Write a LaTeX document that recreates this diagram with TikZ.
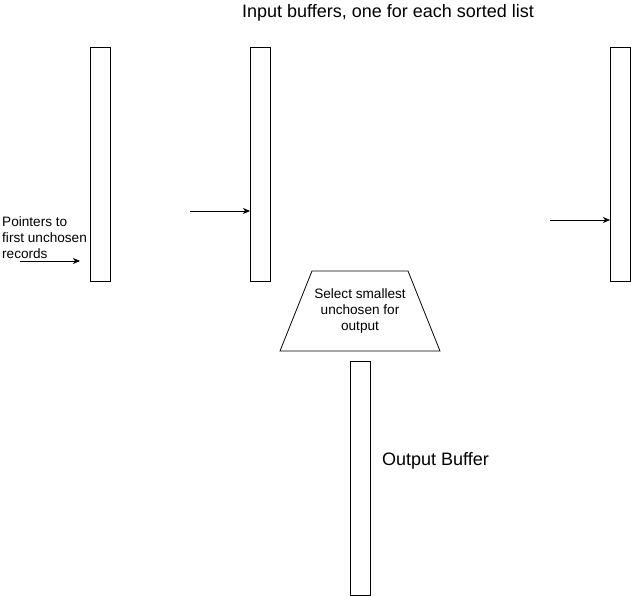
\documentclass[tikz,border=0pt]{standalone}
\usepackage{fontspec}
\setmainfont{Liberation Sans}
\usetikzlibrary{arrows.meta}
\begin{document}
\begin{tikzpicture}[x=1pt,y=-1pt,
  buf/.style={draw,line width=0.8pt,minimum width=20pt,minimum height=234pt,inner sep=0pt,anchor=north west},
  arr/.style={line width=0.8pt,-{Stealth[length=7pt,width=6pt,inset=2pt]}},
  small/.style={font=\fontsize{13.6}{16}\selectfont,align=center},
  big/.style={font=\fontsize{18}{21}\selectfont}]
\useasboundingbox (0,0) rectangle (631,596);
\node[buf] (r1) at (90,47) {};
\node[buf] (r2) at (250,47) {};
\node[buf] (r3) at (610,47) {};
\node[buf] (out) at (350,361) {};
\coordinate (t1) at (312,271);
\coordinate (t2) at (408,271);
\coordinate (t3) at (440,351);
\coordinate (t4) at (280,351);
\draw[line width=0.8pt] (t1) -- (t2) -- (t3) -- (t4) -- cycle;
\node[small,inner sep=0pt] (sel) at (360,311) {Select smallest\\unchosen for\\output};
\node[big,anchor=center] (title) at (388,13) {Input buffers, one for each sorted list};
\node[big,anchor=west,inner sep=0pt] (outl) at (382,461) {Output Buffer};
\node[small,align=left,anchor=west,inner sep=0pt] (ptr) at (2,238) {Pointers to\\first unchosen\\records};
\coordinate (s1) at (20,261);
\coordinate (e1) at (80,261);
\coordinate (s2) at (190,211);
\coordinate (s3) at (550,220);
\draw[arr] (s1) -- (e1);
\draw[arr] (s2) -- (s2 -| r2.west);
\draw[arr] (s3) -- (s3 -| r3.west);
\end{tikzpicture}
\end{document}
